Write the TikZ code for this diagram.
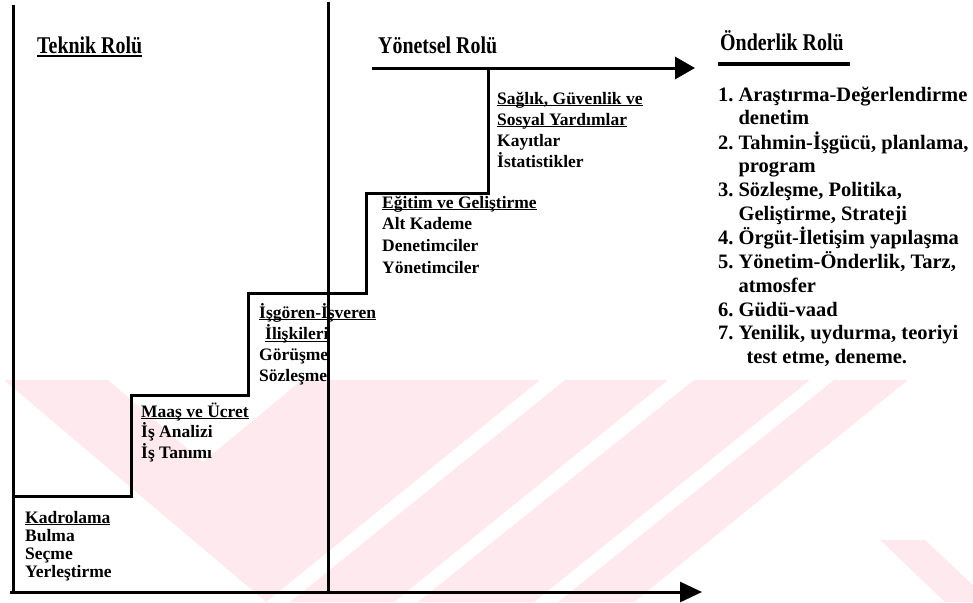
\documentclass[tikz,border=0pt]{standalone}
\usepackage{fontspec}
\usepackage{graphicx}
\setmainfont{Liberation Serif}
\newfontfamily\headfont{Liberation Serif}[FakeStretch=0.83]
\usetikzlibrary{arrows.meta}

\definecolor{wmpink}{RGB}{253,233,238}

% underline with adjustable offset and thickness: \undl{offset}{thickness}{text}
\newcommand\undl[3]{\setbox0=\hbox{#3}\rlap{\rule[-#1]{\wd0}{#2}}\box0}
% a left-aligned block of step labels; #1 = line pitch
\newcommand\stepblock[2]{{\bfseries\fontsize{17.5}{#1}\selectfont\begin{tabular}[t]{@{}l@{}}#2\end{tabular}}}
\newcommand\sul[1]{\undl{2.4pt}{1.2pt}{#1}}

\begin{document}
\begin{tikzpicture}[x=1pt, y=-1pt,
  axis/.style={line width=3pt},
  stair/.style={line width=3pt, line join=miter},
  head/.style={font=\headfont\bfseries\fontsize{24}{28}\selectfont, inner sep=0pt, anchor=base west},
  txt/.style={inner sep=0pt, anchor=base west},
  wm/.style={fill=wmpink, draw=none}]
\useasboundingbox (0,0) rectangle (973,602);

% faint background emblem
\fill[wm] (4,380) -- (108,380) -- (203,462) -- (302,380) -- (540,380) -- (266,602) -- cycle;
\fill[wm] (565,380) -- (668,380) -- (394,602) -- (290,602) -- cycle;
\fill[wm] (694,380) -- (810,380) -- (534,602) -- (418,602) -- cycle;
\fill[wm] (834,380) -- (908,380) -- (634,602) -- (558,602) -- cycle;
\fill[wm] (880,540) -- (925,540) -- (973,585) -- (973,602) -- (945,602) -- cycle;

% frame coordinates
\coordinate (ltop) at (13,5);
\coordinate (lbot) at (13,592);
\coordinate (axstart) at (10,592);
\coordinate (axend) at (702,592);
\coordinate (mtop) at (328,2);
\coordinate (mbot) at (328,592);
\coordinate (tstart) at (372,68);
\coordinate (tend) at (695,68);
\coordinate (ustart) at (718,64);
\coordinate (uend) at (850,64);

% staircase corners
\coordinate (s0) at (13,496);
\coordinate (s1) at (131,496);
\coordinate (s2) at (131,395);
\coordinate (s3) at (248,395);
\coordinate (s4) at (248,293);
\coordinate (s5) at (366,293);
\coordinate (s6) at (366,193);
\coordinate (s7) at (488,193);
\coordinate (s8) at (488,68);

% axes and dividers
\draw[axis] (ltop) -- (lbot);
\draw[axis] (mtop) -- (mbot);
\draw[axis, -{Triangle[length=22pt,width=20pt]}] (axstart) -- (axend);
\draw[axis, -{Triangle[length=20pt,width=22pt]}] (tstart) -- (tend);
\draw[line width=3.5pt] (ustart) -- (uend);

% staircase
\draw[stair] (s0) -- (s1) -- (s2) -- (s3) -- (s4) -- (s5) -- (s6) -- (s7) -- (s8);

% role headings
\node[head] (teknik) at (37,53) {\undl{3.5pt}{1.8pt}{Teknik Rolü}};
\node[head] (yonetsel) at (378,53) {Yönetsel Rolü};
\node[head] (onderlik) at (720,51) {Önderlik Rolü};

% step labels
\node[txt] (kadro) at (25,523) {\stepblock{18}{\sul{Kadrolama}\\ Bulma\\ Seçme\\ Yerleştirme}};
\node[txt] (maas) at (141,417) {\stepblock{19}{\sul{Maaş ve Ücret}\\ İş Analizi\\ İş Tanımı}};
\node[txt] (isgoren) at (259,318) {\stepblock{21.3}{\sul{İşgören-İşveren}\\ \hspace{6pt}\sul{İlişkileri}\\ Görüşme\\ Sözleşme}};
\node[txt] (egitim) at (382,208) {\stepblock{21.7}{\sul{Eğitim ve Geliştirme}\\ Alt Kademe\\ Denetimciler\\ Yönetimciler}};
\node[txt] (saglik) at (497,104) {\stepblock{21}{\sul{Sağlık, Güvenlik ve}\\ \sul{Sosyal Yardımlar}\\ Kayıtlar\\ İstatistikler}};

% leadership list
\node[txt] (liste) at (718,101) {\bfseries\fontsize{20.5}{23.6}\selectfont
\begin{tabular}[t]{@{}l@{\hspace{5pt}}l@{}}
1. & Araştırma-Değerlendirme\\
   & denetim\\
2. & Tahmin-İşgücü, planlama,\\
   & program\\
3. & Sözleşme, Politika,\\
   & Geliştirme, Strateji\\
4. & Örgüt-İletişim yapılaşma\\
5. & Yönetim-Önderlik, Tarz,\\
   & atmosfer\\
6. & Güdü-vaad\\
7. & Yenilik, uydurma, teoriyi\\
   & \hspace{8pt}test etme, deneme.
\end{tabular}};
\end{tikzpicture}
\end{document}
